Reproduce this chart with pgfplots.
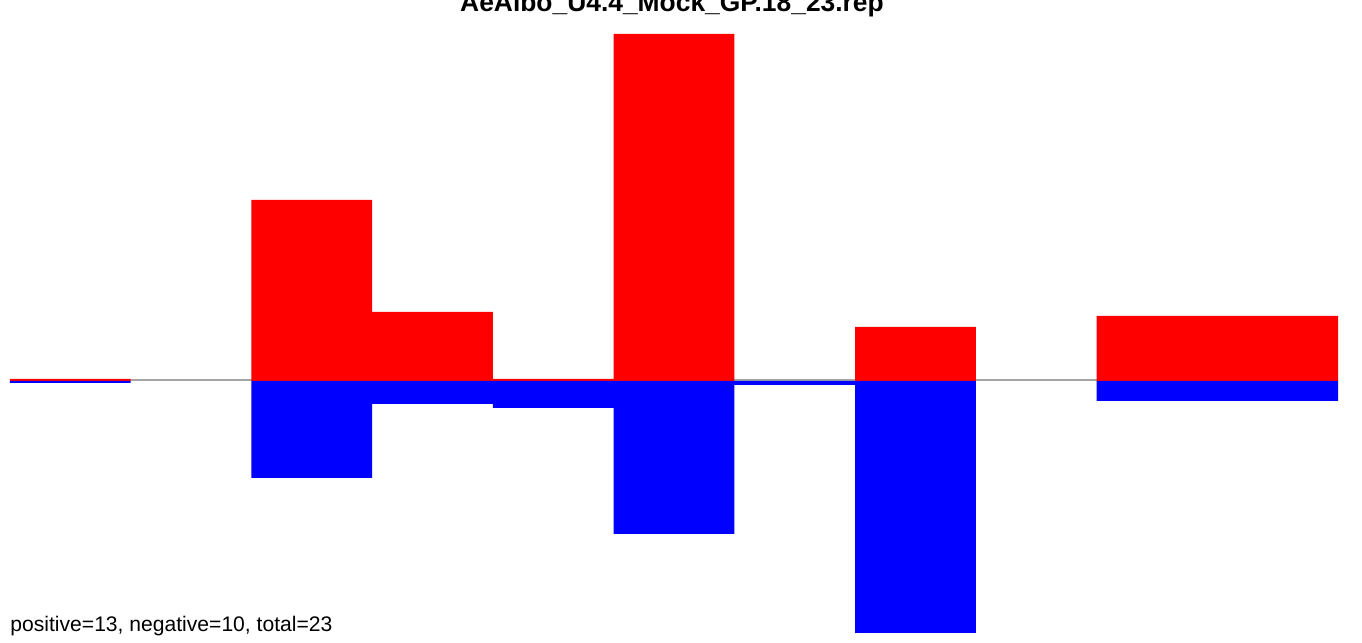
\documentclass[border=0pt]{standalone}
\usepackage{pgfplots}
\pgfplotsset{compat=1.18}
\usepackage{fontspec}
\setmainfont{Liberation Sans}
\begin{document}
\begin{tikzpicture}[x=1pt,y=1pt]
\useasboundingbox (0,0) rectangle (681,321.5);
\begin{axis}[at={(5pt,5pt)}, anchor=south west, scale only axis,
  width=664pt, height=299.5pt,
  xmin=0, xmax=11, ymin=-252, ymax=347,
  hide axis, clip=false]
\addplot[color={rgb,255:red,165;green,165;blue,165}, line width=1pt] coordinates {(0,0.5) (11,0.5)};
\addplot[ybar, bar width=1, bar shift=0pt, fill=red, draw=none] coordinates {
  (0.5,2) (2.5,181) (3.5,69) (4.5,2) (5.5,347) (7.5,54) (9.5,65) (10.5,65)};
\addplot[ybar, bar width=1, bar shift=0pt, fill=blue, draw=none] coordinates {
  (0.5,-2) (2.5,-97) (3.5,-23) (4.5,-27) (5.5,-153) (6.5,-4) (7.5,-252) (9.5,-20) (10.5,-20)};
\end{axis}
\node[anchor=base west, inner sep=0] at (5,5.5) {\fontsize{10.55}{12}\selectfont positive=13, negative=10, total=23};
\node[anchor=base, inner sep=0] at (336,315.5) {\fontsize{13.2}{15}\selectfont\bfseries AeAlbo\_U4.4\_Mock\_GP.18\_23.rep};
\end{tikzpicture}
\end{document}
